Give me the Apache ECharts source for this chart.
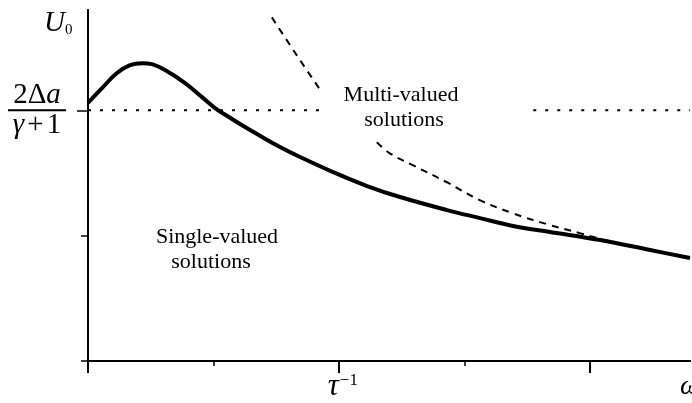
<!DOCTYPE html>
<html>
<head>
<meta charset="utf-8">
<script src="https://cdn.jsdelivr.net/npm/echarts@6/dist/echarts.min.js"></script>
<style>
  html, body { margin: 0; padding: 0; background: #fff; }
  #chart { width: 692px; height: 403px; }
</style>
</head>
<body>
<div id="chart"></div>
<script>
// Response amplitude U0 against frequency (axis units: tau^-1 sits at 2)
const solidCurve = [
  [0.00, 2.060], [0.112, 2.177], [0.231, 2.297], [0.335, 2.360], [0.431, 2.376],
  [0.510, 2.368], [0.614, 2.321], [0.774, 2.217], [0.909, 2.105], [1.013, 2.018],
  [1.148, 1.930], [1.252, 1.866], [1.348, 1.810], [1.531, 1.707], [1.691, 1.627],
  [1.954, 1.507], [2.225, 1.396], [2.488, 1.308], [2.863, 1.204], [3.126, 1.140],
  [3.389, 1.077], [3.684, 1.029], [4.083, 0.965], [4.482, 0.885], [4.800, 0.821]
];
// boundary of the multi-valued region, broken where the label sits
const dashedUpper = [[1.466, 2.741], [1.665, 2.438], [1.865, 2.143]];
const dashedLower = [
  [2.303, 1.745], [2.406, 1.657], [2.590, 1.562], [2.861, 1.426], [3.124, 1.283],
  [3.386, 1.179], [3.657, 1.092], [3.920, 1.020], [4.215, 0.940], [4.40, 0.905]
];
// threshold level 2Δa/(γ+1)
const thresholdLevel = 2;
const dottedLeft = [[0, thresholdLevel], [1.85, thresholdLevel]];
const dottedRight = [[3.55, thresholdLevel], [4.8, thresholdLevel]];

const xMinorTicks = [1, 3];
const xMajorTicks = [0, 2, 4];
const xLabelValues = [2];
const yMinorTicks = [0, 1];
const yMajorTicks = [2];

const ink = '#000';
const serif = '"Liberation Serif", "DejaVu Serif", serif';

const chart = echarts.init(document.getElementById('chart'));

const xBase = {
  type: 'value', min: 0, max: 4.8, position: 'bottom',
  splitLine: { show: false },
  axisLine: { show: true, onZero: false, lineStyle: { color: ink, width: 2 } }
};
const yBase = {
  type: 'value', min: 0, max: 2.8, position: 'left',
  splitLine: { show: false },
  axisLine: { show: true, onZero: false, lineStyle: { color: ink, width: 2 } }
};

chart.setOption({
  animation: false,
  backgroundColor: '#fff',
  grid: { left: 88, right: 2, top: 10, bottom: 42, containLabel: false, outerBoundsMode: 'none' },
  xAxis: [
    Object.assign({}, xBase, {
      axisTick: { show: true, customValues: xMinorTicks, length: 5, lineStyle: { color: ink, width: 1.5 } },
      axisLabel: { show: false }
    }),
    Object.assign({}, xBase, {
      axisTick: { show: true, customValues: xMajorTicks, length: 12, lineStyle: { color: ink, width: 2 } },
      axisLabel: {
        show: true, customValues: xLabelValues, margin: 11, padding: [0, 0, 0, 8],
        formatter: () => '{t|τ}{s|−1}',
        rich: {
          t: { fontFamily: serif, fontStyle: 'italic', fontSize: 31, lineHeight: 30, color: ink },
          s: { fontFamily: serif, fontSize: 17, lineHeight: 17, verticalAlign: 'top', padding: [0, 0, 0, 1], color: ink }
        }
      }
    })
  ],
  yAxis: [
    Object.assign({}, yBase, {
      axisTick: { show: true, customValues: yMinorTicks, length: 7, lineStyle: { color: ink, width: 1.5 } },
      axisLabel: { show: false }
    }),
    Object.assign({}, yBase, {
      axisTick: { show: true, customValues: yMajorTicks, length: 11, lineStyle: { color: ink, width: 1.5 } },
      axisLabel: {
        show: true, customValues: yMajorTicks, margin: 51, align: 'center',
        formatter: () => '{n|2Δ}{i|a}\n{b|}\n{g|γ}{p|+}{n|1}',
        rich: {
          n: { fontFamily: serif, fontSize: 29, lineHeight: 26, color: ink, align: 'center' },
          p: { fontFamily: serif, fontSize: 29, lineHeight: 26, color: ink, align: 'center', padding: [0, 3, 0, 3] },
          i: { fontFamily: serif, fontStyle: 'italic', fontSize: 29, lineHeight: 26, color: ink, align: 'center' },
          g: { fontFamily: serif, fontStyle: 'italic', fontSize: 29, lineHeight: 26, color: ink, align: 'center' },
          b: { width: 58, height: 2, lineHeight: 4, backgroundColor: ink, align: 'center' }
        }
      }
    })
  ],
  series: [
    {
      type: 'line', data: solidCurve, smooth: 0.4, showSymbol: false, silent: true,
      lineStyle: { color: ink, width: 4 }, z: 5
    },
    {
      type: 'line', data: dashedUpper, smooth: 0.3, showSymbol: false, silent: true,
      lineStyle: { color: ink, width: 2, type: [7, 6] }
    },
    {
      type: 'line', data: dashedLower, smooth: 0.4, showSymbol: false, silent: true,
      lineStyle: { color: ink, width: 2, type: [7, 6] }
    },
    {
      type: 'line', data: dottedLeft, showSymbol: false, silent: true,
      lineStyle: { color: ink, width: 2, type: [3, 9] }
    },
    {
      type: 'line', data: dottedRight, showSymbol: false, silent: true,
      lineStyle: { color: ink, width: 2, type: [3, 9] }
    }
  ],
  graphic: [
    { type: 'text', x: 44, y: 9, z: 100,
      style: { text: 'U', font: 'italic 29px ' + serif, fill: ink, verticalAlign: 'top' } },
    { type: 'text', x: 65, y: 23, z: 100,
      style: { text: '0', font: '15px ' + serif, fill: ink, verticalAlign: 'top' } },
    { type: 'text', x: 680, y: 373, z: 100,
      style: { text: 'ω', font: 'italic 28px ' + serif, fill: ink, verticalAlign: 'top' } },
    { type: 'text', x: 401, y: 83, z: 100,
      style: { text: 'Multi-valued', font: '22px ' + serif, fill: ink, align: 'center', verticalAlign: 'top', lineHeight: 25 } },
    { type: 'text', x: 404, y: 108, z: 100,
      style: { text: 'solutions', font: '22px ' + serif, fill: ink, align: 'center', verticalAlign: 'top', lineHeight: 25 } },
    { type: 'text', x: 217, y: 225, z: 100,
      style: { text: 'Single-valued', font: '22px ' + serif, fill: ink, align: 'center', verticalAlign: 'top', lineHeight: 25 } },
    { type: 'text', x: 211, y: 250, z: 100,
      style: { text: 'solutions', font: '22px ' + serif, fill: ink, align: 'center', verticalAlign: 'top', lineHeight: 25 } }
  ]
});
</script>
</body>
</html>
